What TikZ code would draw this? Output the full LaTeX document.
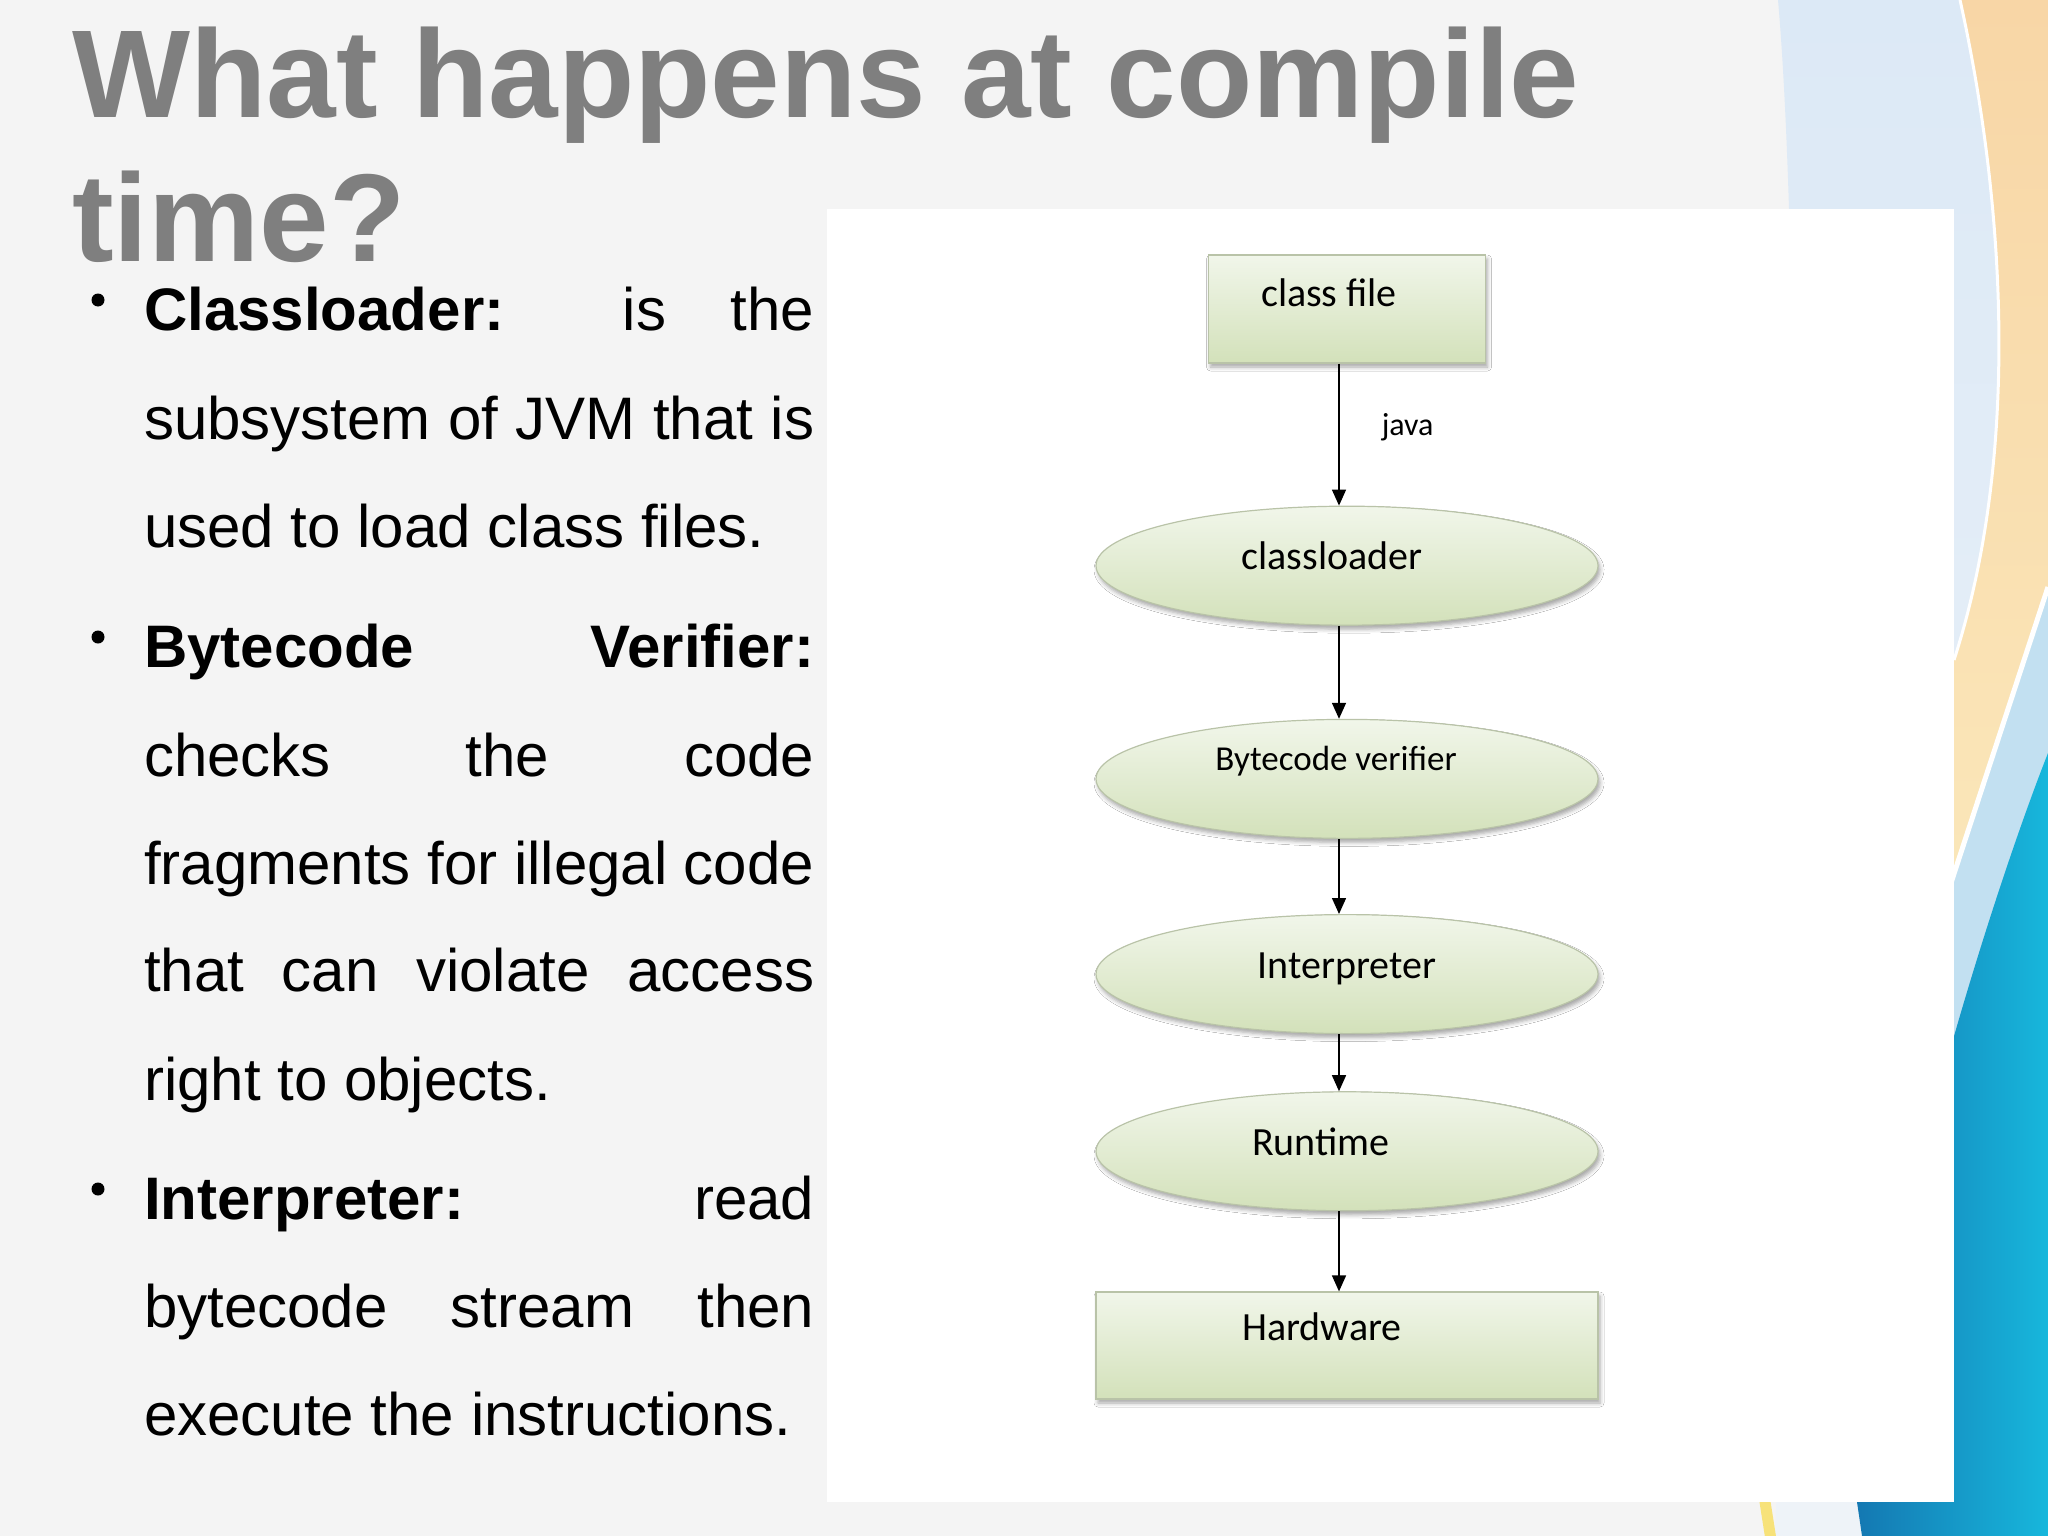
\documentclass[tikz,border=0pt]{standalone}
\usepackage{fontspec}
\setmainfont{Liberation Sans}
\newfontfamily\diagfont{Carlito}
\usetikzlibrary{positioning,shapes.geometric,arrows.meta,shadows.blur}

\definecolor{titlegray}{HTML}{7F7F7F}
\definecolor{slidebg}{HTML}{F4F4F4}
\definecolor{washtop}{HTML}{DCE9F6}
\definecolor{washlow}{HTML}{EEF3F8}
\definecolor{bandblue}{HTML}{C2E0F1}
\definecolor{deepblue}{HTML}{1478B2}
\definecolor{brightblue}{HTML}{17B7DC}
\definecolor{peach}{HTML}{F8D6A6}
\definecolor{cream}{HTML}{FBEBBE}
\definecolor{stripeyellow}{HTML}{F7E27A}
\definecolor{boxtop}{HTML}{F1F6EA}
\definecolor{boxbottom}{HTML}{D3E1BA}
\definecolor{boxedge}{HTML}{B9C3A8}

% justified line of the bullet text
\newcommand{\fullline}[1]{\makebox[670pt][s]{#1}}

\tikzset{
  title/.style={inner sep=0pt, text=titlegray, font=\fontsize{125}{143}\selectfont\bfseries},
  bodytext/.style={inner sep=0pt, font=\fontsize{60}{72}\selectfont},
  stage/.style={ellipse, draw=boxedge, line width=1.2pt, top color=boxtop, bottom color=boxbottom,
    minimum width=502pt, minimum height=119pt, inner sep=0pt,
    font=\diagfont\fontsize{40}{48}\selectfont, text height=28pt, text depth=20pt,
    blur shadow={shadow xshift=2pt, shadow yshift=-4pt, shadow blur radius=4pt, shadow opacity=35}},
  block/.style={stage, rectangle},
  flow/.style={-{Triangle[width=14pt,length=16pt]}, line width=1.5pt},
  tag/.style={inner sep=0pt, font=\diagfont\fontsize{32}{38}\selectfont}
}

\begin{document}
\begin{tikzpicture}[x=1pt, y=-1pt]
  \useasboundingbox (0,0) rectangle (2048,1536);

  % slide background
  \fill[slidebg] (0,0) rectangle (2048,1536);
  \shade[top color=washtop, bottom color=washlow]
    (1778,0) .. controls (1800,250) and (1800,900) .. (1775,1536) -- (2048,1536) -- (2048,0) -- cycle;
  \fill[bandblue] (2048,587) -- (1870,1130) -- (1900,1300) -- (2048,1300) -- cycle;
  \shade[left color=deepblue, right color=brightblue]
    (2048,753) .. controls (1990,900) and (1880,1250) .. (1857,1502) -- (1862,1536) -- (2048,1536) -- cycle;
  \shade[top color=peach, bottom color=cream]
    (1960,0) .. controls (2000,180) and (2025,440) .. (1954,660) -- (1870,1130) -- (2048,587) -- (2048,0) -- cycle;
  \draw[white, line width=3pt] (1960,0) .. controls (2000,180) and (2025,440) .. (1954,660);
  \draw[white, line width=5pt] (2048,587) -- (1870,1130);
  \draw[stripeyellow, line width=11pt] (1760,1470) -- (1771,1540);

  % white panel behind the diagram
  \fill[white] (827,209) rectangle (1954,1502);

  % heading
  \node[title, anchor=base west] (head1) at (72,118) {What happens at compile};
  \node[title, anchor=base west] (head2) at (72,261) {time?};

  % bullet text
  \foreach \yy in {330,667,1219}
    \fill (98,\yy-30) circle (6.5);
  \foreach \yy/\txt in {330/{\fullline{\textbf{Classloader:} is the}},
      439/{\fullline{subsystem of JVM that is}},
      547/{used to load class files.},
      667/{\fullline{\textbf{Bytecode} \textbf{Verifier:}}},
      776/{\fullline{checks the code}},
      884/{\fullline{fragments for illegal code}},
      991/{\fullline{that can violate access}},
      1100/{right to objects.},
      1219/{\fullline{\textbf{Interpreter:} read}},
      1327/{\fullline{bytecode stream then}},
      1435/{execute the instructions.}}
    \node[bodytext, anchor=base west] (row\yy) at (144,\yy) {\txt};

  % diagram
  \node[block, minimum width=277pt, minimum height=108pt, text depth=34pt] (classfile) at (1347,309) {\hspace*{-36pt}class file};
  \node[stage, below=142pt of classfile] (classloader) {\hspace*{-30pt}classloader};
  \node[stage, below=93pt of classloader, text depth=44pt, font=\diagfont\fontsize{35}{42}\selectfont] (verifier) {\hspace*{-22pt}Bytecode verifier};
  \node[stage, below=75pt of verifier] (interp) {Interpreter};
  \node[stage, below=57pt of interp] (runtime) {\hspace*{-52pt}Runtime};
  \node[block, minimum height=107pt, text depth=38pt, below=80pt of runtime] (hardware) {\hspace*{-50pt}Hardware};

  \draw[flow] ([xshift=-8pt]classfile.south) -- node[tag, pos=0.45, right=42pt] (javatag) {java} ([xshift=-8pt]classloader.north);
  \foreach \a/\b in {classloader/verifier, verifier/interp, interp/runtime, runtime/hardware}
    \draw[flow] ([xshift=-8pt]\a.south) -- ([xshift=-8pt]\b.north);
\end{tikzpicture}
\end{document}
